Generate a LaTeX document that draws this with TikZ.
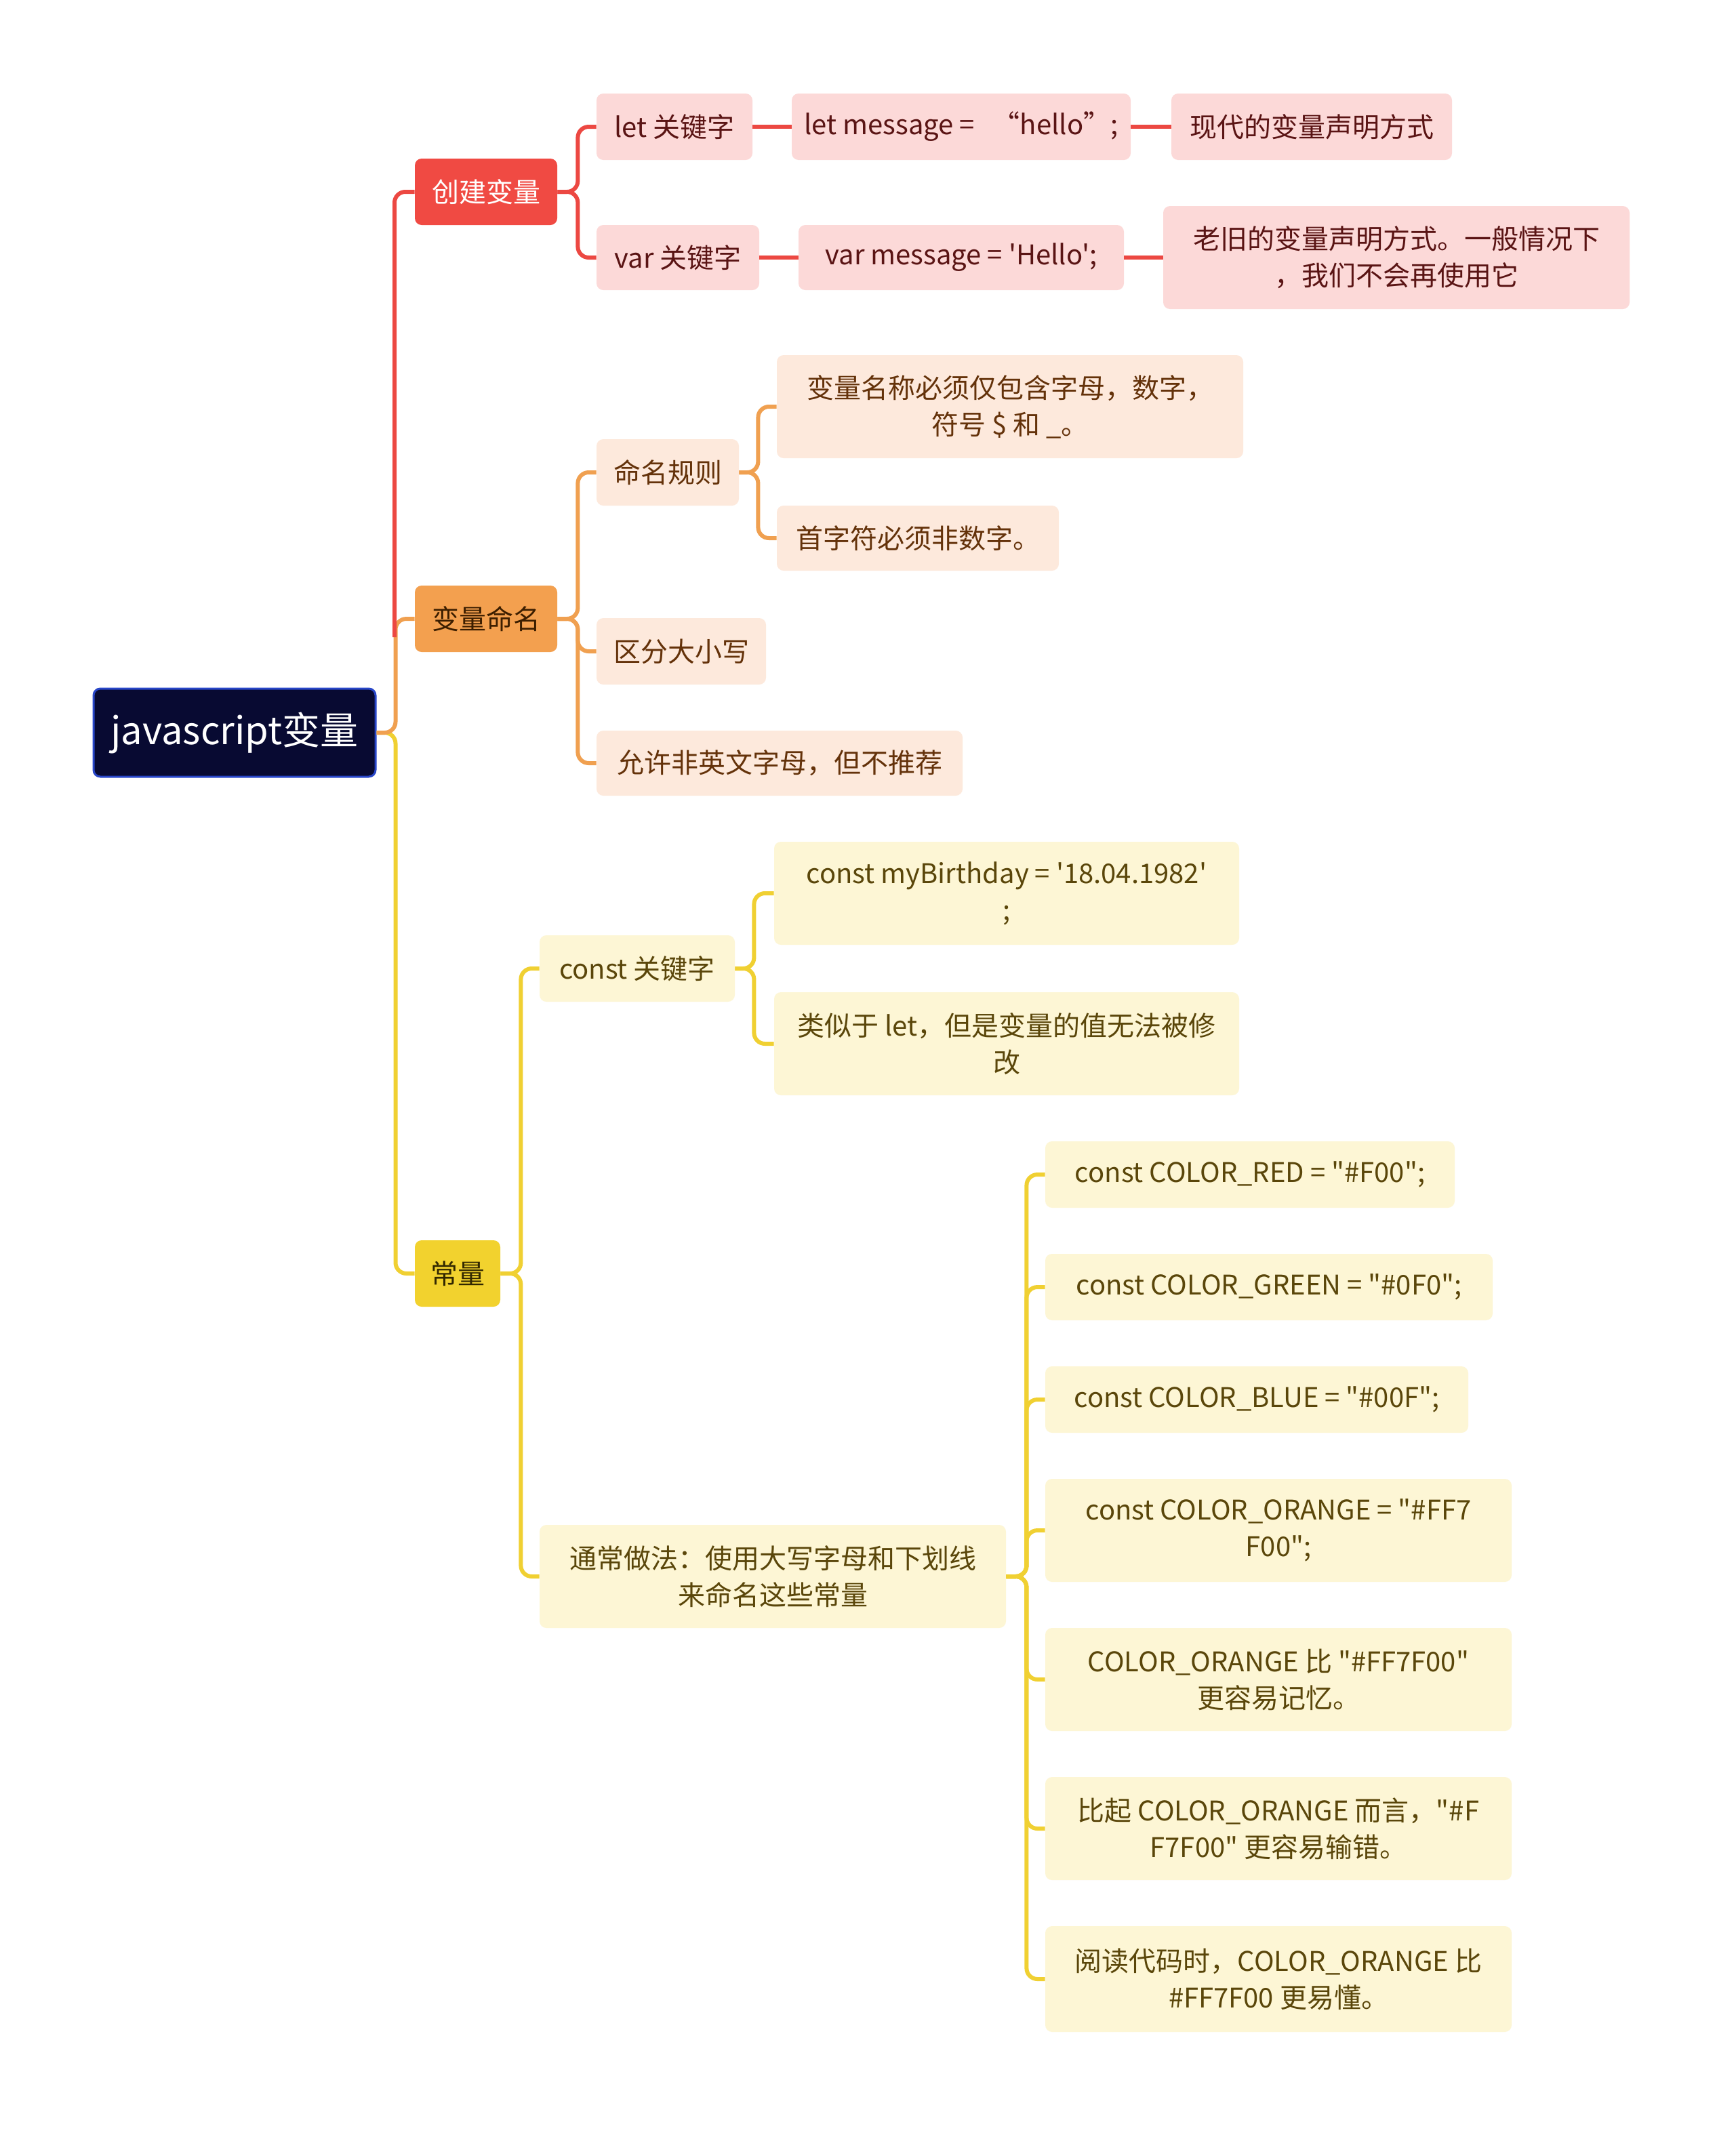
\documentclass[tikz,border=0pt]{standalone}
\usepackage{fontspec}
\setmainfont{Noto Sans CJK SC}[Ligatures=TeXOff]
\newcommand\dq{\symbol{34}}
\newcommand\sq{\symbol{39}}
\begin{document}
\begin{tikzpicture}[x=1pt,y=-1pt,
 bx/.style={rounded corners=5pt,inner sep=0pt,align=center,font=\fontsize{20}{27}\selectfont},
 rl/.style={bx,fill={rgb,255:red,252;green,217;blue,216},text={rgb,255:red,90;green,20;blue,20}},
 ol/.style={bx,fill={rgb,255:red,253;green,233;blue,220},text={rgb,255:red,100;green,50;blue,10}},
 yl/.style={bx,fill={rgb,255:red,253;green,246;blue,213},text={rgb,255:red,90;green,70;blue,10}},
 cr/.style={draw={rgb,255:red,236;green,72;blue,66},line width=3pt,rounded corners=8pt},
 co/.style={draw={rgb,255:red,240;green,160;blue,80},line width=3pt,rounded corners=8pt},
 cy/.style={draw={rgb,255:red,240;green,208;blue,50},line width=3pt,rounded corners=8pt}]
\fill[white] (0,0) rectangle (1280,1579.5);
\useasboundingbox (0,0) rectangle (1280,1579.5);
\newcommand\bx[7]{\node[#6,minimum width={(#4-#2)*1pt},minimum height={(#5-#3)*1pt}] (#1) at ({(#2+#4)/2},{(#3+#5)/2}) {#7};}
% root and level 1
\bx{root}{69}{508}{277}{573}{bx,fill={rgb,255:red,8;green,10;blue,50},draw={rgb,255:red,40;green,70;blue,200},line width=1.5pt,text=white,font=\fontsize{28}{34}\selectfont}{javascript变量}
\bx{a}{306}{117}{411}{166}{bx,fill={rgb,255:red,240;green,74;blue,67},text=white}{创建变量}
\bx{b}{306}{432}{411}{481}{bx,fill={rgb,255:red,243;green,160;blue,79},text={rgb,255:red,60;green,30;blue,0}}{变量命名}
\bx{c}{306}{915}{369}{964}{bx,fill={rgb,255:red,242;green,210;blue,46},text={rgb,255:red,50;green,40;blue,0}}{常量}
% red
\bx{a1}{440}{69}{555}{118}{rl}{let 关键字}
\bx{a2}{440}{166}{560}{214}{rl}{var 关键字}
\bx{a11}{584}{69}{834}{118}{rl}{let message = \ \ “hello”;}
\bx{a21}{589}{166}{829}{214}{rl}{var message = \sq Hello\sq;}
\bx{a111}{864}{69}{1071}{118}{rl}{现代的变量声明方式}
\bx{a211}{858}{152}{1202}{228}{rl}{老旧的变量声明方式。一般情况下\\，我们不会再使用它}
% orange
\bx{b1}{440}{324}{545}{373}{ol}{命名规则}
\bx{b11}{573}{262}{917}{338}{ol}{变量名称必须仅包含字母，数字，\\符号 \$ 和 \_。}
\bx{b12}{573}{373}{781}{421}{ol}{首字符必须非数字。}
\bx{b2}{440}{456}{565}{505}{ol}{区分大小写}
\bx{b3}{440}{539}{710}{587}{ol}{允许非英文字母，但不推荐}
% yellow
\bx{c1}{398}{690}{542}{739}{yl}{const 关键字}
\bx{c11}{571}{621}{914}{697}{yl}{const myBirthday = \sq 18.04.1982\sq\\;}
\bx{c12}{571}{732}{914}{808}{yl}{类似于 let，但是变量的值无法被修\\改}
\bx{c2}{398}{1125}{742}{1201}{yl}{通常做法：使用大写字母和下划线\\来命名这些常量}
\bx{d1}{771}{842}{1073}{891}{yl}{const COLOR\_RED = \dq\#F00\dq;}
\bx{d2}{771}{925}{1101}{974}{yl}{const COLOR\_GREEN = \dq\#0F0\dq;}
\bx{d3}{771}{1008}{1083}{1057}{yl}{const COLOR\_BLUE = \dq\#00F\dq;}
\bx{d4}{771}{1091}{1115}{1167}{yl}{const COLOR\_ORANGE = \dq\#FF7\\F00\dq;}
\bx{d5}{771}{1201}{1115}{1277}{yl}{COLOR\_ORANGE 比 \dq\#FF7F00\dq\\更容易记忆。}
\bx{d6}{771}{1311}{1115}{1387}{yl}{比起 COLOR\_ORANGE 而言，\dq\#F\\F7F00\dq{} 更容易输错。}
\bx{d7}{771}{1421}{1115}{1499}{yl}{阅读代码时，COLOR\_ORANGE 比\\\#FF7F00 更易懂。}
% connectors
\coordinate (tr) at (291,470);
\draw[cy] (root.east) -- ++(14,0) |- (c.west);
\draw[co] (root.east) -- ++(14,0) |- (b.west);
\draw[cr] (tr) |- (a.west);
\foreach \t in {a1,a2} \draw[cr] (a.east) -- ++(15,0) |- (\t.west);
\draw[cr] (a1) -- (a11); \draw[cr] (a11) -- (a111);
\draw[cr] (a2) -- (a21); \draw[cr] (a21) -- (a211);
\foreach \t in {b1,b2,b3} \draw[co] (b.east) -- ++(15,0) |- (\t.west);
\foreach \t in {b11,b12} \draw[co] (b1.east) -- ++(14,0) |- (\t.west);
\foreach \t in {c1,c2} \draw[cy] (c.east) -- ++(15,0) |- (\t.west);
\foreach \t in {c11,c12} \draw[cy] (c1.east) -- ++(14,0) |- (\t.west);
\foreach \t in {d1,d2,d3,d4,d5,d6,d7} \draw[cy] (c2.east) -- ++(15,0) |- (\t.west);
\end{tikzpicture}
\end{document}
